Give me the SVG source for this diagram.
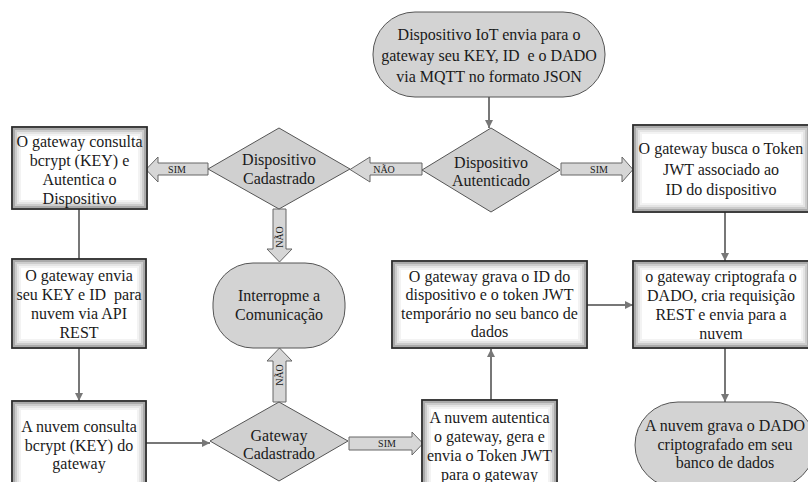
<svg xmlns="http://www.w3.org/2000/svg" width="808" height="482" viewBox="0 0 808 482">
<defs>
<style>
text{font-family:"Liberation Serif","Times New Roman","DejaVu Serif",serif;fill:#1a1a1a;text-anchor:middle}
.t{font-size:16px}
.l{font-size:10px}
.box{fill:#fff;stroke:none}
.bd{fill:none;stroke:#2a2a2a;stroke-width:1.8}
.s1{fill:none;stroke:#555;stroke-width:2;stroke-opacity:.5}
.s2{fill:none;stroke:#555;stroke-width:2;stroke-opacity:.3}
.s3{fill:none;stroke:#555;stroke-width:2;stroke-opacity:.16}
.s4{fill:none;stroke:#555;stroke-width:2;stroke-opacity:.07}
.term{fill:#d3d3d3;stroke:#555;stroke-width:1}
.dia{fill:#d0d0d0;stroke:#555;stroke-width:1}
.ba{fill:#d6d6d6;stroke:#666;stroke-width:1}
.c{fill:none;stroke:#777;stroke-width:2;marker-end:url(#ah)}
.c0{fill:none;stroke:#777;stroke-width:2}
</style>
<marker id="ah" markerUnits="userSpaceOnUse" markerWidth="10" markerHeight="10" viewBox="0 0 10 10" refX="9" refY="5" orient="auto">
<path d="M1,1 L9,5 L1,9 Z" fill="#777"/>
</marker>
</defs>

<g id="connectors">
<path class="c" d="M489,97 V128"/>
<path class="c0" d="M79,209 V259"/>
<path class="c" d="M79,348 V401"/>
<path class="c" d="M146,443 H210"/>
<path class="c" d="M491,400 V349"/>
<path class="c" d="M587,305 H633"/>
<path class="c" d="M725,212 V261"/>
<path class="c" d="M725,348 V402"/>
<g id="arrow-nao-1">
<polygon class="ba" points="422,163 370,163 370,157 350,169.5 370,182 370,175 422,175"/>
<text class="l" x="384" y="173">NÃO</text>
</g>
<g id="arrow-sim-1">
<polygon class="ba" points="208,163 158,163 158,157 146,169.5 158,182 158,175 208,175"/>
<text class="l" x="177" y="173">SIM</text>
</g>
<g id="arrow-sim-2">
<polygon class="ba" points="561,163 622,163 622,157 633,169.5 622,182 622,175 561,175"/>
<text class="l" x="599" y="173">SIM</text>
</g>
<g id="arrow-nao-2">
<polygon class="ba" points="273,209 273,249 267,249 279.5,262 292,249 286,249 286,209"/>
<text class="l" transform="translate(283,237) rotate(-90)" x="0" y="0">NÃO</text>
</g>
<g id="arrow-nao-3">
<polygon class="ba" points="273,402 273,361 267,361 279.5,348 292,361 286,361 286,402"/>
<text class="l" transform="translate(283,375) rotate(-90)" x="0" y="0">NÃO</text>
</g>
<g id="arrow-sim-3">
<polygon class="ba" points="349,437 412,437 412,432 423,443.5 412,455 412,450 349,450"/>
<text class="l" x="387" y="447">SIM</text>
</g>
</g>

<g id="start">
<rect class="term" x="373" y="12" width="232" height="85" rx="42" ry="42"/>
<text class="t" x="489" y="40">Dispositivo IoT envia para o</text>
<text class="t" x="489" y="61" xml:space="preserve">gateway seu KEY, ID  e o DADO</text>
<text class="t" x="489" y="82">via MQTT no formato JSON</text>
</g>

<g id="dispositivo-autenticado">
<polygon class="dia" points="491,128 560,170 491,212 422,170"/>
<text class="t" x="491" y="168">Dispositivo</text>
<text class="t" x="491" y="186">Autenticado</text>
</g>

<g id="dispositivo-cadastrado">
<polygon class="dia" points="279,128 350,169 279,209 208,169"/>
<text class="t" x="279" y="165">Dispositivo</text>
<text class="t" x="279" y="184">Cadastrado</text>
</g>

<g id="gateway-consulta">
<rect class="box" x="12" y="127" width="135" height="82"/>
<rect class="s1" x="14" y="129" width="131" height="78"/>
<rect class="s2" x="16" y="131" width="127" height="74"/>
<rect class="s3" x="18" y="133" width="123" height="70"/>
<rect class="s4" x="20" y="135" width="119" height="66"/>
<rect class="bd" x="12" y="127" width="135" height="82"/>
<text class="t" x="79.5" y="147">O gateway consulta</text>
<text class="t" x="79.5" y="166">bcrypt (KEY) e</text>
<text class="t" x="79.5" y="185">Autentica o</text>
<text class="t" x="79.5" y="204">Dispositivo</text>
</g>

<g id="gateway-envia">
<rect class="box" x="12" y="259" width="134" height="89"/>
<rect class="s1" x="14" y="261" width="130" height="85"/>
<rect class="s2" x="16" y="263" width="126" height="81"/>
<rect class="s3" x="18" y="265" width="122" height="77"/>
<rect class="s4" x="20" y="267" width="118" height="73"/>
<rect class="bd" x="12" y="259" width="134" height="89"/>
<text class="t" x="79" y="281">O gateway envia</text>
<text class="t" x="79" y="300" xml:space="preserve">seu KEY e ID  para</text>
<text class="t" x="79" y="319">nuvem via API</text>
<text class="t" x="79" y="338">REST</text>
</g>

<g id="nuvem-consulta">
<rect class="box" x="12" y="401" width="134" height="90"/>
<rect class="s1" x="14" y="403" width="130" height="86"/>
<rect class="s2" x="16" y="405" width="126" height="82"/>
<rect class="s3" x="18" y="407" width="122" height="78"/>
<rect class="s4" x="20" y="409" width="118" height="74"/>
<rect class="bd" x="12" y="401" width="134" height="90"/>
<text class="t" x="79" y="432">A nuvem consulta</text>
<text class="t" x="79" y="451">bcrypt (KEY) do</text>
<text class="t" x="79" y="469">gateway</text>
</g>

<g id="interrompe">
<rect class="term" x="213" y="263" width="132" height="85" rx="40" ry="40"/>
<text class="t" x="279" y="301">Interropme a</text>
<text class="t" x="279" y="320">Comunicação</text>
</g>

<g id="gateway-cadastrado">
<polygon class="dia" points="279,402 348,441 279,481 210,441"/>
<text class="t" x="279" y="441">Gateway</text>
<text class="t" x="279" y="459">Cadastrado</text>
</g>

<g id="gateway-grava">
<rect class="box" x="392" y="261" width="195" height="87"/>
<rect class="s1" x="394" y="263" width="191" height="83"/>
<rect class="s2" x="396" y="265" width="187" height="79"/>
<rect class="s3" x="398" y="267" width="183" height="75"/>
<rect class="s4" x="400" y="269" width="179" height="71"/>
<rect class="bd" x="392" y="261" width="195" height="87"/>
<text class="t" x="489.5" y="282">O gateway grava o ID do</text>
<text class="t" x="489.5" y="300">dispositivo e o token JWT</text>
<text class="t" x="489.5" y="319">temporário no seu banco de</text>
<text class="t" x="489.5" y="337">dados</text>
</g>

<g id="nuvem-autentica">
<rect class="box" x="422" y="400" width="135" height="92"/>
<rect class="s1" x="424" y="402" width="131" height="88"/>
<rect class="s2" x="426" y="404" width="127" height="84"/>
<rect class="s3" x="428" y="406" width="123" height="80"/>
<rect class="s4" x="430" y="408" width="119" height="76"/>
<rect class="bd" x="422" y="400" width="135" height="92"/>
<text class="t" x="489.5" y="423">A nuvem autentica</text>
<text class="t" x="489.5" y="442">o gateway, gera e</text>
<text class="t" x="489.5" y="461">envia o Token JWT</text>
<text class="t" x="489.5" y="480">para o gateway</text>
</g>

<g id="gateway-busca">
<rect class="box" x="633" y="125" width="177" height="87"/>
<rect class="s1" x="635" y="127" width="173" height="83"/>
<rect class="s2" x="637" y="129" width="169" height="79"/>
<rect class="s3" x="639" y="131" width="165" height="75"/>
<rect class="s4" x="641" y="133" width="161" height="71"/>
<rect class="bd" x="633" y="125" width="177" height="87"/>
<text class="t" x="721" y="154">O gateway busca o Token</text>
<text class="t" x="721" y="175">JWT associado ao</text>
<text class="t" x="721" y="195">ID do dispositivo</text>
</g>

<g id="gateway-criptografa">
<rect class="box" x="633" y="261" width="177" height="87"/>
<rect class="s1" x="635" y="263" width="173" height="83"/>
<rect class="s2" x="637" y="265" width="169" height="79"/>
<rect class="s3" x="639" y="267" width="165" height="75"/>
<rect class="s4" x="641" y="269" width="161" height="71"/>
<rect class="bd" x="633" y="261" width="177" height="87"/>
<text class="t" x="721" y="282">o gateway criptografa o</text>
<text class="t" x="721" y="301">DADO, cria requisição</text>
<text class="t" x="721" y="320">REST e envia para a</text>
<text class="t" x="721" y="339">nuvem</text>
</g>

<g id="nuvem-grava">
<rect class="term" x="635" y="402" width="180" height="86" rx="43" ry="43"/>
<text class="t" x="725" y="431">A nuvem grava o DADO</text>
<text class="t" x="725" y="450">criptografado em seu</text>
<text class="t" x="725" y="468">banco de dados</text>
</g>
</svg>
